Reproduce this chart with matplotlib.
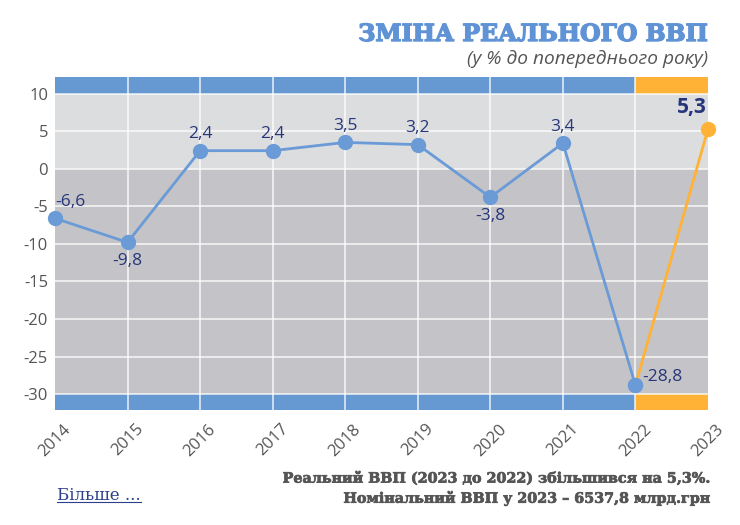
import matplotlib.pyplot as plt
import matplotlib.patheffects as pe

years = [2014, 2015, 2016, 2017, 2018, 2019, 2020, 2021, 2022, 2023]
gdp_change = [-6.6, -9.8, 2.4, 2.4, 3.5, 3.2, -3.8, 3.4, -28.8, 5.3]
labels = ['-6,6', '-9,8', '2,4', '2,4', '3,5', '3,2', '-3,8', '3,4', '-28,8', '5,3']
yticks = [10, 5, 0, -5, -10, -15, -20, -25, -30]

BLUE = '#6a9bd6'
BAND_BLUE = '#6699d1'
ORANGE = '#ffb236'
NAVY = '#27367a'
GREY_TXT = '#555555'

fig = plt.figure(figsize=(7.4, 5.25), dpi=100)
ax = fig.add_axes([55 / 740, 1 - 410 / 525, 653 / 740, 333 / 525])

ymin, ymax = -32.1, 12.2
ax.set_xlim(2014, 2023)
ax.set_ylim(ymin, ymax)

# фон і смуги
ax.axhspan(0, 10, color='#dcdddf', zorder=0)
ax.axhspan(-30, 0, color='#c4c4c8', zorder=0)
ax.fill_between([2014, 2022], 10, ymax, color=BAND_BLUE, lw=0, zorder=0)
ax.fill_between([2022, 2023], 10, ymax, color=ORANGE, lw=0, zorder=0)
ax.fill_between([2014, 2022], ymin, -30, color=BAND_BLUE, lw=0, zorder=0)
ax.fill_between([2022, 2023], ymin, -30, color=ORANGE, lw=0, zorder=0)

for y in yticks:
    ax.axhline(y, color='white', lw=1.2, alpha=0.8, zorder=1)
for x in years[1:-1]:
    ax.axvline(x, color='white', lw=1.2, alpha=0.8, zorder=1)

# лінія
ax.plot(years[:-1], gdp_change[:-1], color=BLUE, lw=2, marker='o', ms=10,
        zorder=3, clip_on=False)
ax.plot(years[-2:], gdp_change[-2:], color=ORANGE, lw=2, zorder=2, clip_on=False)
ax.plot(years[-1], gdp_change[-1], 'o', color=ORANGE, ms=10, zorder=3, clip_on=False)
ax.plot(years[-2], gdp_change[-2], 'o', color=BLUE, ms=10, zorder=4, clip_on=False)

lab_font = 'Open Sans'
for i, (x, v, t) in enumerate(zip(years, gdp_change, labels)):
    if i == 0:
        off, ha, va = (0, 6), 'left', 'bottom'
    elif i == 8:
        off, ha, va = (5, 6), 'left', 'center'
    elif i == 9:
        ax.annotate(t, (x, v), xytext=(-1, 8), textcoords='offset points',
                    ha='right', va='bottom', color=NAVY, fontsize=15,
                    fontweight='bold', family=lab_font, zorder=5)
        continue
    elif v < 0:
        off, ha, va = (0, -8), 'center', 'top'
    else:
        off, ha, va = (0, 6), 'center', 'bottom'
    ax.annotate(t, (x, v), xytext=off, textcoords='offset points',
                ha=ha, va=va, color=NAVY, fontsize=12.5, family=lab_font, zorder=5)

ax.set_yticks(yticks)
ax.set_yticklabels([str(y) for y in yticks])
ax.set_xticks(years)
ax.set_xticklabels([str(y) for y in years], rotation=45, ha='center')
ax.tick_params(axis='both', length=0, colors=GREY_TXT, labelsize=12)
ax.tick_params(axis='y', pad=5)
ax.tick_params(axis='x', pad=8)
for lbl in ax.get_xticklabels() + ax.get_yticklabels():
    lbl.set_family(lab_font)
for s in ax.spines.values():
    s.set_visible(False)

# заголовки
fig.text(708 / 740, 1 - 34 / 525, 'ЗМІНА РЕАЛЬНОГО ВВП', ha='right', va='center',
         color='#5f93d6', fontsize=17, fontweight='bold', family='DejaVu Serif',
         path_effects=[pe.withStroke(linewidth=1.0, foreground='#5f93d6')])
fig.text(708 / 740, 1 - 59 / 525, '(у % до попереднього року)', ha='right', va='center',
         color=GREY_TXT, fontsize=13.8, style='italic', family='Open Sans')

fig.text(708 / 740, 1 - 478 / 525, 'Реальний ВВП (2023 до 2022) збільшився на 5,3%.',
         ha='right', va='center', color=GREY_TXT, fontsize=10.3, fontweight='bold',
         family='DejaVu Serif',
         path_effects=[pe.withStroke(linewidth=0.5, foreground=GREY_TXT)])
fig.text(708 / 740, 1 - 498 / 525, 'Номінальний ВВП у 2023 – 6537,8 млрд.грн',
         ha='right', va='center', color=GREY_TXT, fontsize=10.3, fontweight='bold',
         family='DejaVu Serif',
         path_effects=[pe.withStroke(linewidth=0.5, foreground=GREY_TXT)])
more = fig.text(57 / 740, 1 - 495 / 525, 'Більше ...', ha='left', va='center',
                color='#2b3f8a', fontsize=12, family='DejaVu Serif')
fig.canvas.draw()
bb = more.get_window_extent().transformed(fig.transFigure.inverted())
fig.add_artist(plt.Line2D([bb.x0, bb.x1], [bb.y0 + 0.003, bb.y0 + 0.003],
                          color='#2b3f8a', lw=0.8, transform=fig.transFigure))

fig.savefig('out.png', dpi=100)
